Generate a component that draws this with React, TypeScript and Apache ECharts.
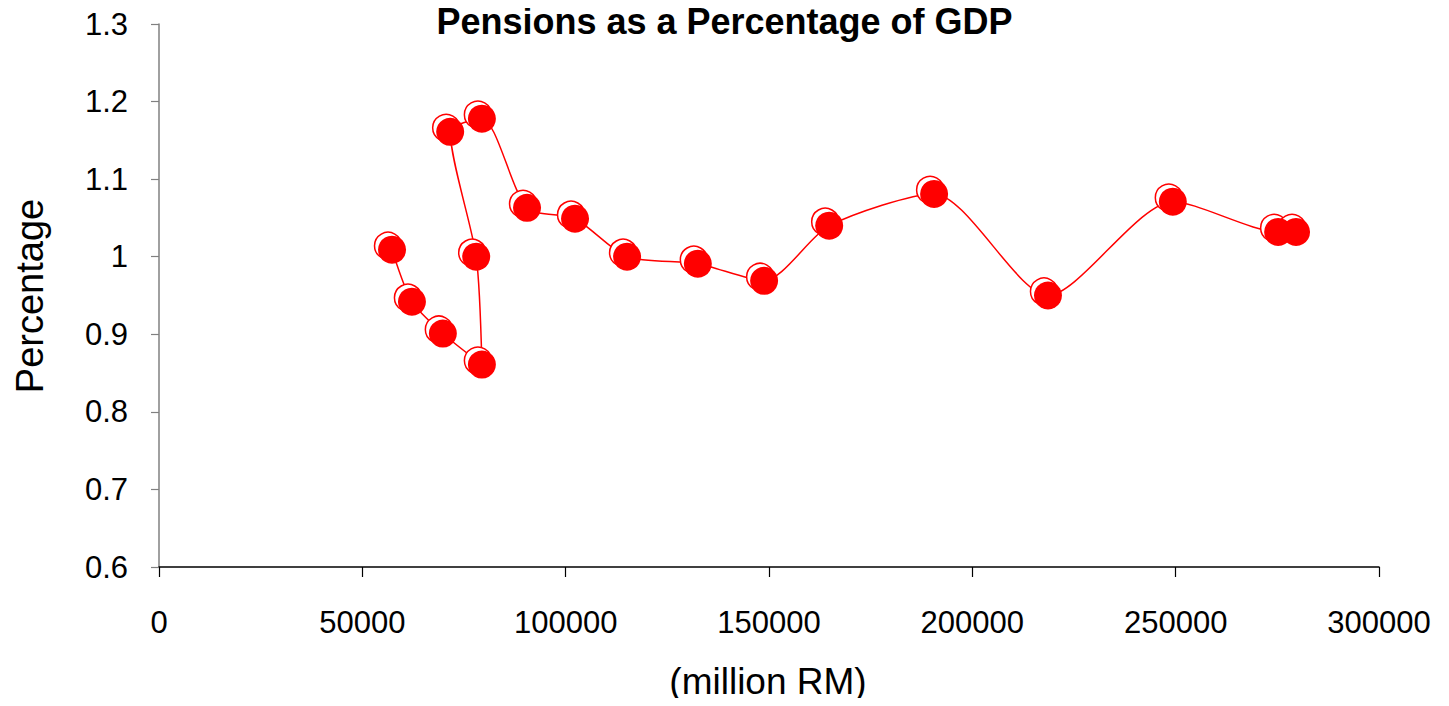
import React, { useEffect, useRef } from "react";
import * as echarts from "echarts";

// Pension spending (million RM) against its share of GDP (%)
const pensionRM: number[] = [
  57300, 62200, 69800, 79400, 78000, 71600, 79400, 90500, 102300, 115100,
  132500, 148800, 164800, 190600, 218600, 249300, 275200, 279600,
];
const pctGDP: number[] = [
  1.009, 0.942, 0.901, 0.861, 1.0, 1.161, 1.178, 1.063, 1.049, 1.0,
  0.991, 0.969, 1.04, 1.081, 0.95, 1.071, 1.032, 1.032,
];
const chartTitle = "Pensions as a Percentage of GDP";
const xAxisName = "(million RM)";
const yAxisName = "Percentage";

const FONT = "'Liberation Sans', Arial, sans-serif";
const RED = "#ff0000";

export default function App() {
  const ref = useRef<HTMLDivElement>(null);

  useEffect(() => {
    if (!ref.current) return;
    const chart = echarts.init(ref.current, undefined, { renderer: "svg" });
    const pts = pensionRM.map((x, i) => [x, pctGDP[i]]);

    chart.setOption({
      animation: false,
      backgroundColor: "#ffffff",
      textStyle: { fontFamily: FONT },
      grid: { left: 159, right: 70, top: 24, bottom: 139 },
      graphic: [
        {
          type: "text",
          left: "center",
          top: 3,
          style: {
            text: chartTitle,
            fontFamily: FONT,
            fontSize: 36,
            fontWeight: "bold",
            fill: "#000",
          },
        },
        {
          type: "text",
          x: 768,
          y: 681,
          style: {
            text: xAxisName,
            fontFamily: FONT,
            fontSize: 37,
            fill: "#000",
            align: "center",
            verticalAlign: "middle",
          },
        },
        {
          type: "text",
          x: 30,
          y: 296,
          rotation: Math.PI / 2,
          style: {
            text: yAxisName,
            fontFamily: FONT,
            fontSize: 38,
            fill: "#000",
            align: "center",
            verticalAlign: "middle",
          },
        },
      ],
      xAxis: {
        type: "value",
        min: 0,
        max: 300000,
        interval: 50000,
        splitLine: { show: false },
        axisLine: { show: true, lineStyle: { color: "#000", width: 1.5 } },
        axisTick: { show: true, length: 10, lineStyle: { color: "#000", width: 1.2 } },
        axisLabel: {
          fontSize: 31,
          color: "#000",
          margin: 40,
          fontFamily: FONT,
          formatter: (v: number) => String(v),
        },
      },
      yAxis: {
        type: "value",
        min: 0.6,
        max: 1.3,
        interval: 0.1,
        splitLine: { show: false },
        axisLine: { show: true, lineStyle: { color: "#808080", width: 1.5 } },
        axisTick: { show: true, length: 8, lineStyle: { color: "#808080", width: 1.2 } },
        axisLabel: {
          fontSize: 31,
          color: "#000",
          margin: 31,
          fontFamily: FONT,
          formatter: (v: number) => String(Math.round(v * 10) / 10),
        },
      },
      series: [
        {
          type: "line",
          data: pts,
          smooth: 0.25,
          showSymbol: false,
          symbol: "none",
          lineStyle: { color: RED, width: 1.5 },
          z: 1,
        },
        {
          type: "scatter",
          data: pts,
          symbol: "circle",
          symbolSize: 27,
          symbolOffset: [-4, -4],
          itemStyle: { color: "#ffffff", borderColor: RED, borderWidth: 1.5, opacity: 1 },
          z: 2,
        },
        {
          type: "scatter",
          data: pts,
          symbol: "circle",
          symbolSize: 28,
          itemStyle: { color: RED, opacity: 1 },
          z: 3,
        },
      ],
    });

    return () => chart.dispose();
  }, []);

  return <div ref={ref} style={{ width: 1449, height: 706, margin: -8 }} />;
}
